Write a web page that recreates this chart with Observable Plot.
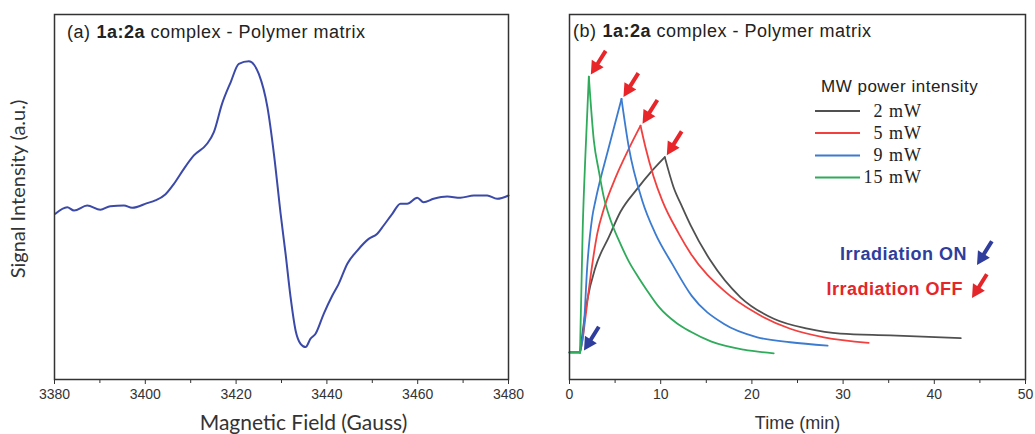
<!DOCTYPE html>
<html><head><meta charset="utf-8">
<script src="https://cdn.jsdelivr.net/npm/d3@7"></script>
<script src="https://cdn.jsdelivr.net/npm/@observablehq/plot@0.6"></script>
<style>
body{margin:0;background:#fff;}
#wrap{position:relative;width:1035px;height:434px;overflow:hidden;}
#left{position:absolute;left:0;top:0;}
#right{position:absolute;left:520px;top:0;}
#overlay{position:absolute;left:0;top:0;pointer-events:none;}
</style></head>
<body><div id="wrap"><div id="left"></div><div id="right"></div></div>
<script>
// ---------- Panel (a): EPR spectrum ----------
const fieldGauss = [3380.2, 3382.8, 3384.3, 3387.2, 3390.1, 3392.3, 3395.3, 3397.1, 3400.4, 3402.2, 3404.4, 3406.3, 3408.5, 3410.7, 3413.6, 3415.1, 3416.9, 3418.8, 3420.6, 3422.8, 3424.0, 3425.0, 3426.9, 3428.4, 3429.8, 3430.9, 3432.0, 3433.1, 3434.2, 3435.3, 3436.4, 3437.5, 3439.3, 3441.2, 3442.6, 3444.5, 3446.7, 3449.2, 3451.1, 3452.5, 3454.4, 3456.2, 3457.7, 3459.9, 3461.3, 3463.5, 3466.5, 3469.4, 3472.4, 3475.3, 3477.5, 3480];
const signalAU = [-0.022, 0.022, 0, 0.033, 0.005, 0.029, 0.033, 0.018, 0.049, 0.067, 0.107, 0.178, 0.278, 0.367, 0.445, 0.522, 0.711, 0.855, 0.978, 0.995, 0.97, 0.911, 0.689, 0.36, -0.02, -0.289, -0.578, -0.8, -0.889, -0.911, -0.855, -0.822, -0.689, -0.567, -0.489, -0.355, -0.267, -0.189, -0.155, -0.1, -0.022, 0.045, 0.045, 0.085, 0.055, 0.078, 0.093, 0.085, 0.1, 0.1, 0.078, 0.1];
const fieldTicks = [3380, 3400, 3420, 3440, 3460, 3480];
const fieldMinorTicks = [3390, 3410, 3430, 3450, 3470];

// ---------- Panel (b): kinetics ----------
const powerLabels = ["2 mW", "5 mW", "9 mW", "15 mW"];
const powerColors = ["#505050", "#f2403f", "#3b7bd0", "#2fab5b"];
const time2mW = [0, 1.15, 1.5, 1.94, 2.85, 4.31, 5.59, 7.42, 9.06, 10.45, 11.4, 12.35, 13.3, 15.46, 18.75, 22.4, 26.1, 29.7, 35.2, 42.9];
const signal2mW = [0, 0, 0.09, 0.188, 0.309, 0.418, 0.51, 0.593, 0.659, 0.708, 0.60, 0.528, 0.46, 0.333, 0.2, 0.122, 0.086, 0.068, 0.062, 0.052];
const time5mW = [0, 1.15, 1.45, 1.75, 2.3, 3.04, 3.76, 5.0, 6.5, 7.79, 8.33, 9.2, 10.16, 12.0, 13.3, 16.9, 20.6, 24.2, 27.9, 32.8];
const signal5mW = [0, 0, 0.05, 0.128, 0.273, 0.43, 0.52, 0.63, 0.738, 0.822, 0.744, 0.64, 0.551, 0.43, 0.358, 0.225, 0.14, 0.086, 0.055, 0.035];
const time9mW = [0, 1.15, 1.35, 1.57, 1.94, 2.49, 2.85, 4.31, 5.7, 6.5, 7.97, 9.43, 11.26, 13.4, 16.9, 20.6, 24.2, 28.3];
const signal9mW = [0, 0, 0.03, 0.092, 0.309, 0.49, 0.551, 0.744, 0.919, 0.744, 0.551, 0.43, 0.321, 0.205, 0.104, 0.055, 0.037, 0.025];
const time15mW = [0, 1.15, 1.45, 1.75, 2.12, 2.67, 3.21, 3.76, 4.5, 5.5, 6.5, 7.6, 8.5, 9.8, 11.8, 13.3, 15.5, 19.1, 22.4];
const signal15mW = [0, 0, 0.45, 0.72, 1.0, 0.768, 0.659, 0.563, 0.48, 0.40, 0.33, 0.27, 0.225, 0.165, 0.105, 0.075, 0.04, 0.01, -0.003];
const timeTicks = [0, 10, 20, 30, 40, 50];
const timeMinorTicks = [5, 15, 25, 35, 45];
const irradiationOnTime = 1.15;

// ---------- build tables ----------
const eprData = fieldGauss.map((f, i) => ({field: f, signal: signalAU[i]}));
const seriesTimes = [time2mW, time5mW, time9mW, time15mW];
const seriesSignals = [signal2mW, signal5mW, signal9mW, signal15mW];
// split each trace into baseline / growth (light on) / decay (light off) so the cusps stay sharp
const kinetics = powerLabels.flatMap((p, k) => {
  const ts = seriesTimes[k], vs = seriesSignals[k];
  const iOn = ts.indexOf(irradiationOnTime);
  const iPeak = vs.indexOf(Math.max(...vs));
  const rows = [];
  ts.forEach((t, i) => {
    if (i <= iOn) rows.push({power: p, seg: p + "-base", t, v: vs[i]});
    if (i >= iOn && i <= iPeak) rows.push({power: p, seg: p + "-rise", t, v: vs[i]});
    if (i >= iPeak) rows.push({power: p, seg: p + "-decay", t, v: vs[i]});
  });
  return rows;
});
const peaks = powerLabels.map((p, k) => {
  const vs = seriesSignals[k];
  const i = vs.indexOf(Math.max(...vs));
  return {power: p, t: seriesTimes[k][i], v: vs[i]};
});

// arrow glyph (tip at origin, pointing down-left)
function arrowPoints() {
  const dir = [-0.53, 0.848], perp = [0.848, 0.53];
  const L = 28, HL = 13, HH = 7, SH = 2;
  const B = [-dir[0] * HL, -dir[1] * HL], E = [-dir[0] * L, -dir[1] * L];
  return [[0, 0],
    [B[0] + perp[0] * HH, B[1] + perp[1] * HH],
    [B[0] + perp[0] * SH, B[1] + perp[1] * SH],
    [E[0] + perp[0] * SH, E[1] + perp[1] * SH],
    [E[0] - perp[0] * SH, E[1] - perp[1] * SH],
    [B[0] - perp[0] * SH, B[1] - perp[1] * SH],
    [B[0] - perp[0] * HH, B[1] - perp[1] * HH]];
}
const arrowSymbol = {draw(ctx) {
  const p = arrowPoints();
  ctx.moveTo(p[0][0], p[0][1]);
  for (let i = 1; i < p.length; i++) ctx.lineTo(p[i][0], p[i][1]);
  ctx.closePath();
}};

const sans = "Liberation Sans, Arial, sans-serif";
const baseStyle = {overflow: "visible", fontFamily: sans, fontSize: "14px", color: "#333", background: "transparent"};

const left = Plot.plot({
  width: 520, height: 434,
  marginLeft: 54, marginRight: 12, marginTop: 14, marginBottom: 55,
  style: baseStyle,
  x: {domain: [3380, 3480]},
  y: {domain: [-1.127, 1.307], axis: null},
  marks: [
    Plot.line(eprData, {x: "field", y: "signal", stroke: "#3b4aa8", strokeWidth: 2, curve: "monotone-x"}),
    Plot.axisX({ticks: fieldMinorTicks, tickSize: 4, tickFormat: () => "", label: null}),
    Plot.axisX({ticks: fieldTicks, tickSize: 5, tickPadding: 5, tickFormat: d => String(d), label: null, fontSize: 14}),
    Plot.frame({stroke: "#333", strokeWidth: 1.5}),
    Plot.text(["Magnetic Field (Gauss)"], {text: d => d, frameAnchor: "bottom", dy: 44, dx: 22, lineAnchor: "middle", textAnchor: "middle", fontFamily: "Lato", fontSize: 21, fill: "#333"}),
    Plot.text(["Signal Intensity (a.u.)"], {text: d => d, frameAnchor: "left", rotate: -90, dx: -36, dy: -8, textAnchor: "middle", lineAnchor: "middle", fontFamily: "Lato", fontSize: 20, fill: "#333"})
  ]
});
document.getElementById("left").append(left);

const right = Plot.plot({
  width: 515, height: 434,
  marginLeft: 49, marginRight: 10, marginTop: 14, marginBottom: 55,
  style: baseStyle,
  x: {domain: [0, 50]},
  y: {domain: [-0.098, 1.225], axis: null},
  color: {domain: powerLabels, range: powerColors},
  marks: [
    Plot.line(kinetics, {x: "t", y: "v", z: "seg", stroke: "power", strokeWidth: 1.8, curve: "monotone-x"}),
    Plot.dot(peaks, {x: "t", y: "v", symbol: arrowSymbol, fill: "#e8262a", stroke: "none", dx: 2, dy: -2}),
    Plot.dot([{t: irradiationOnTime, v: 0}], {x: "t", y: "v", symbol: arrowSymbol, fill: "#2f3d9c", stroke: "none", dx: 4, dy: -2}),
    Plot.axisX({ticks: timeMinorTicks, tickSize: 4, tickFormat: () => "", label: null}),
    Plot.axisX({ticks: timeTicks, tickSize: 5, tickPadding: 5, tickFormat: d => String(d), label: null, fontSize: 14}),
    Plot.frame({stroke: "#333", strokeWidth: 1.5}),
    Plot.text(["Time (min)"], {text: d => d, frameAnchor: "bottom", dy: 44, lineAnchor: "middle", textAnchor: "middle", fontFamily: sans, fontSize: 18, fill: "#333"})
  ]
});
document.getElementById("right").append(right);

// ---------- overlay: panel titles and legends ----------
const svg = d3.select("#wrap").append("svg").attr("id", "overlay")
  .attr("width", 1035).attr("height", 434)
  .style("font-family", sans);

function title(x, y, tag) {
  const t = svg.append("text").attr("x", x).attr("y", y).attr("font-size", 18)
    .attr("letter-spacing", 0.5).attr("fill", "#222");
  t.append("tspan").text(tag);
  t.append("tspan").attr("dx", 6).attr("font-weight", "bold").text("1a:2a");
  t.append("tspan").text(" complex - Polymer matrix");
}
title(67, 38, "(a)");
title(573, 37, "(b)");

svg.append("text").attr("x", 821).attr("y", 92).attr("font-size", 17)
  .attr("letter-spacing", 0.5).attr("fill", "#222").text("MW power intensity");
const legendLineY = [111, 133, 155.5, 177.5];
powerLabels.forEach((p, k) => {
  svg.append("line").attr("x1", 815).attr("x2", 860)
    .attr("y1", legendLineY[k]).attr("y2", legendLineY[k])
    .attr("stroke", powerColors[k]).attr("stroke-width", 2);
  svg.append("text").attr("x", 922).attr("y", legendLineY[k] + 5.5)
    .attr("text-anchor", "end").attr("font-family", "Liberation Serif, Times New Roman, serif")
    .attr("font-size", 18).attr("letter-spacing", 1).attr("fill", "#222").text(p);
});

const keyItems = [
  {label: "Irradiation ON", color: "#2f3d9c", xEnd: 967, y: 260, tip: [977, 265]},
  {label: "Irradiation OFF", color: "#e4262a", xEnd: 963, y: 295, tip: [972, 298]}
];
const arrowPath = "M" + arrowPoints().map(p => p.join(",")).join("L") + "Z";
keyItems.forEach(k => {
  svg.append("text").attr("x", k.xEnd).attr("y", k.y).attr("text-anchor", "end")
    .attr("font-size", 18).attr("font-weight", "bold").attr("letter-spacing", 0.5)
    .attr("fill", k.color).text(k.label);
  svg.append("path").attr("d", arrowPath).attr("fill", k.color)
    .attr("transform", `translate(${k.tip[0]},${k.tip[1]})`);
});
</script>
</body></html>
